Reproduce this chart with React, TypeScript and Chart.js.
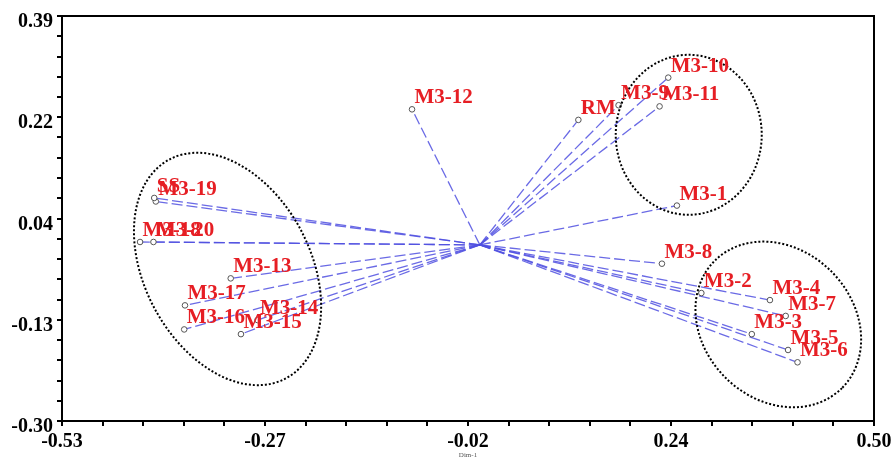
import React, { useEffect, useRef } from "react";
import { Chart, registerables } from "chart.js";

Chart.register(...registerables);

// ---- data ----
const sampleNames = [
  "M3-1", "M3-2", "M3-3", "M3-4", "M3-5", "M3-6", "M3-7", "M3-8", "M3-9", "M3-10",
  "M3-11", "M3-12", "M3-13", "M3-14", "M3-15", "M3-16", "M3-17", "M3-18", "M3-19", "M3-20",
  "SS", "RM",
];
const dim1Values = [
  0.250, 0.281, 0.345, 0.368, 0.391, 0.403, 0.388, 0.231, 0.176, 0.239,
  0.228, -0.086, -0.316, -0.282, -0.303, -0.375, -0.374, -0.431, -0.411, -0.414,
  -0.413, 0.125,
];
const dim2Values = [
  0.067, -0.082, -0.152, -0.094, -0.179, -0.200, -0.121, -0.032, 0.238, 0.285,
  0.236, 0.231, -0.057, -0.128, -0.152, -0.144, -0.103, 0.005, 0.074, 0.005,
  0.080, 0.213,
];
const originPoint = [0, 0];
const xTickLabels = ["-0.53", "-0.27", "-0.02", "0.24", "0.50"];
const yTickLabels = ["-0.30", "-0.13", "0.04", "0.22", "0.39"];
const xRange = [-0.53, 0.5];
const yRange = [-0.3, 0.39];
const xAxisTitle = "Dim-1";

// group ellipses (centre in data units, semi-axes in px, rotation in degrees)
const groupEllipses = [
  { cx: -0.32, cy: -0.041, rx: 124, ry: 83, rot: 62 },
  { cx: 0.265, cy: 0.1876, rx: 73, ry: 80, rot: 0 },
  { cx: 0.3786, cy: -0.1355, rx: 90, ry: 75, rot: 45 },
];

const MINOR_PER_MAJOR = 5;

function buildTicks(range: number[], majorCount: number) {
  const n = (majorCount - 1) * MINOR_PER_MAJOR;
  const out: { value: number }[] = [];
  for (let i = 0; i <= n; i++) {
    out.push({ value: range[0] + ((range[1] - range[0]) * i) / n });
  }
  return out;
}

const overlayPlugin = {
  id: "overlay",
  afterDatasetsDraw(chart: any) {
    const { ctx, chartArea, scales } = chart;
    const xs = scales.x;
    const ys = scales.y;
    ctx.save();
    // ellipses
    ctx.strokeStyle = "#000";
    ctx.lineWidth = 2;
    ctx.setLineDash([2, 2]);
    for (const e of groupEllipses) {
      ctx.beginPath();
      ctx.ellipse(
        xs.getPixelForValue(e.cx),
        ys.getPixelForValue(e.cy),
        e.rx,
        e.ry,
        (e.rot * Math.PI) / 180,
        0,
        Math.PI * 2
      );
      ctx.stroke();
    }
    ctx.setLineDash([]);
    // point labels
    ctx.fillStyle = "#e61e24";
    ctx.font = 'bold 21px "Liberation Serif", "Times New Roman", serif';
    ctx.textAlign = "left";
    ctx.textBaseline = "alphabetic";
    sampleNames.forEach((name, i) => {
      const px = xs.getPixelForValue(dim1Values[i]);
      const py = ys.getPixelForValue(dim2Values[i]);
      ctx.fillText(name, px + 2.5, py - 6);
    });
    // frame
    ctx.strokeStyle = "#000";
    ctx.lineWidth = 2;
    ctx.strokeRect(
      chartArea.left,
      chartArea.top,
      chartArea.right - chartArea.left,
      chartArea.bottom - chartArea.top
    );
    ctx.restore();
  },
};

export default function App() {
  const canvasRef = useRef<HTMLCanvasElement | null>(null);

  useEffect(() => {
    if (!canvasRef.current) return;
    const markerData = sampleNames.map((_, i) => ({ x: dim1Values[i], y: dim2Values[i] }));
    const lineSets = sampleNames.map((name, i) => ({
      type: "line" as const,
      label: name,
      data: [
        { x: originPoint[0], y: originPoint[1] },
        { x: dim1Values[i], y: dim2Values[i] },
      ],
      borderColor: "rgba(80,80,225,0.85)",
      borderWidth: 1.3,
      borderDash: [11, 4],
      pointRadius: 0,
      showLine: true,
      fill: false,
      order: 2,
    }));

    const tickFont = { family: '"Liberation Serif", "Times New Roman", serif', size: 20, weight: "bold" as const };

    const chart = new Chart(canvasRef.current, {
      type: "scatter",
      data: {
        datasets: [
          {
            label: "samples",
            data: markerData,
            pointRadius: 2.8,
            pointBorderColor: "#555",
            pointBackgroundColor: "#fff",
            pointBorderWidth: 1,
            showLine: false,
            order: 1,
          } as any,
          ...lineSets,
        ],
      },
      options: {
        animation: false,
        responsive: true,
        maintainAspectRatio: false,
        layout: { padding: { top: 12, right: 22, left: 0, bottom: 0 } },
        plugins: {
          legend: { display: false },
          tooltip: { enabled: false },
        },
        scales: {
          x: {
            type: "linear",
            min: xRange[0],
            max: xRange[1],
            afterBuildTicks: (scale: any) => {
              scale.ticks = buildTicks(xRange, xTickLabels.length);
            },
            afterFit: (scale: any) => {
              scale.height = 40;
            },
            ticks: {
              autoSkip: false,
              maxRotation: 0,
              padding: 4,
              color: "#000",
              font: tickFont,
              callback: (_v: any, index: number) =>
                index % MINOR_PER_MAJOR === 0 ? xTickLabels[index / MINOR_PER_MAJOR] : "",
            },
            grid: {
              drawOnChartArea: false,
              drawTicks: true,
              tickLength: 5,
              lineWidth: 2,
              color: "#000",
            },
            border: { display: true, color: "#000", width: 2 },
            title: {
              display: true,
              text: xAxisTitle,
              color: "#555",
              font: { family: '"Liberation Serif", serif', size: 7 },
              padding: { top: 0, bottom: 2 },
            },
          },
          y: {
            type: "linear",
            min: yRange[0],
            max: yRange[1],
            afterBuildTicks: (scale: any) => {
              scale.ticks = buildTicks(yRange, yTickLabels.length);
            },
            afterFit: (scale: any) => {
              scale.width = 62;
            },
            ticks: {
              autoSkip: false,
              padding: 4,
              color: "#000",
              font: tickFont,
              labelOffset: 6,
              callback: (_v: any, index: number) =>
                index % MINOR_PER_MAJOR === 0 ? yTickLabels[index / MINOR_PER_MAJOR] : "",
            },
            grid: {
              drawOnChartArea: false,
              drawTicks: true,
              tickLength: 5,
              lineWidth: 2,
              color: "#000",
            },
            border: { display: true, color: "#000", width: 2 },
          },
        },
      },
      plugins: [overlayPlugin],
    } as any);

    return () => chart.destroy();
  }, []);

  return (
    <div style={{ position: "fixed", left: 0, top: 0, width: 896, height: 461, background: "#fff" }}>
      <canvas ref={canvasRef} style={{ display: "block" }} />
    </div>
  );
}
